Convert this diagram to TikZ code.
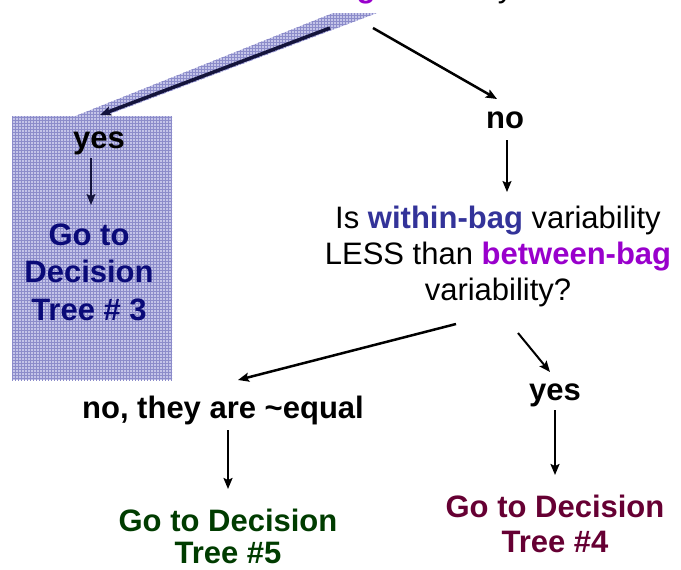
\documentclass[tikz,border=0pt]{standalone}
\usepackage{fontspec}
\setmainfont{Liberation Sans}
\usetikzlibrary{arrows.meta,patterns,calc}
\definecolor{qblue}{RGB}{51,51,153}
\definecolor{qpurple}{RGB}{153,0,204}
\definecolor{navytxt}{RGB}{10,10,120}
\definecolor{dgreen}{RGB}{0,60,0}
\definecolor{maroontxt}{RGB}{102,0,51}
\definecolor{shadefill}{RGB}{196,196,232}
\definecolor{shadeline}{RGB}{140,140,202}
\definecolor{arrnavy}{RGB}{20,20,60}
\newcommand{\mlines}[1]{\begin{tabular}[t]{@{}c@{}}#1\end{tabular}}
\begin{document}
\begin{tikzpicture}[x=1pt,y=-1pt,
  txt/.style={inner sep=0pt, anchor=base, font=\fontsize{31}{36}\selectfont},
  lbl/.style={txt, font=\fontsize{31}{36}\selectfont\bfseries},
  arr/.style={-{Stealth[length=11pt,width=9pt,inset=2pt]}, line width=2pt, black}]
\useasboundingbox (0,0) rectangle (681,570);
% shaded region
\fill[shadefill] (12,116) rectangle (172,380);
\fill[shadefill] (73,117) -- (102,117) -- (377,13) -- (333,13) -- cycle;
\fill[pattern=grid, pattern color=shadeline] (12,116) rectangle (172,380);
\fill[pattern=grid, pattern color=shadeline] (73,117) -- (102,117) -- (377,13) -- (333,13) -- cycle;
% cut-off top line
\begin{scope}
\clip (0,0) rectangle (681,570);
\node[txt, anchor=base west] (top) at (186,-2) {\textcolor{qpurple}{\bfseries between-bag} variability};
\end{scope}
% nodes
\node[lbl] (no) at (505,128) {no};
\node[txt] (q) at (498,228) {\mlines{Is \textcolor{qblue}{\bfseries within-bag} variability\\
LESS than \textcolor{qpurple}{\bfseries between-bag}\\ variability?}};
\node[lbl] (yesL) at (99,148) {yes};
\node[lbl, text=navytxt, font=\fontsize{31}{37.5}\selectfont\bfseries] (g3) at (89,245) {\mlines{Go to\\ Decision\\ Tree \# 3}};
\node[lbl] (neq) at (223,418) {no, they are \textasciitilde equal};
\node[lbl] (yesR) at (555,400) {yes};
\node[lbl, text=dgreen, font=\fontsize{31}{32}\selectfont\bfseries] (g5) at (228,531) {\mlines{Go to Decision\\ Tree \#5}};
\node[lbl, text=maroontxt, font=\fontsize{31}{35}\selectfont\bfseries] (g4) at (555,517) {\mlines{Go to Decision\\ Tree \#4}};
% connectors
\draw[arr, arrnavy, line width=3.5pt] ($(top.base west)+(144,30)$) -- ($(yesL.base)+(1,-33)$);
\draw[arr, line width=2.5pt] ($(top.base west)+(187,30)$) -- ($(no.base)+(-8,-29)$);
\draw[arr, line width=1.6pt] ($(no.base)+(2,12)$) -- ($(q.base)+(9,-36)$);
\draw[arr, arrnavy, line width=1.6pt] ($(yesL.base)+(-8,10)$) -- ($(g3.base)+(2,-40)$);
\draw[arr, line width=2.5pt] ($(q.base)+(-42,96)$) -- ($(neq.base)+(15,-38)$);
\draw[arr] ($(q.base)+(20,105)$) -- ($(yesR.base)+(-5,-28)$);
\draw[arr] ($(neq.base)+(5,12)$) -- ($(g5.base)+(0,-42)$);
\draw[arr] ($(yesR.base)+(0,10)$) -- ($(g4.base)+(0,-42)$);
\end{tikzpicture}
\end{document}
